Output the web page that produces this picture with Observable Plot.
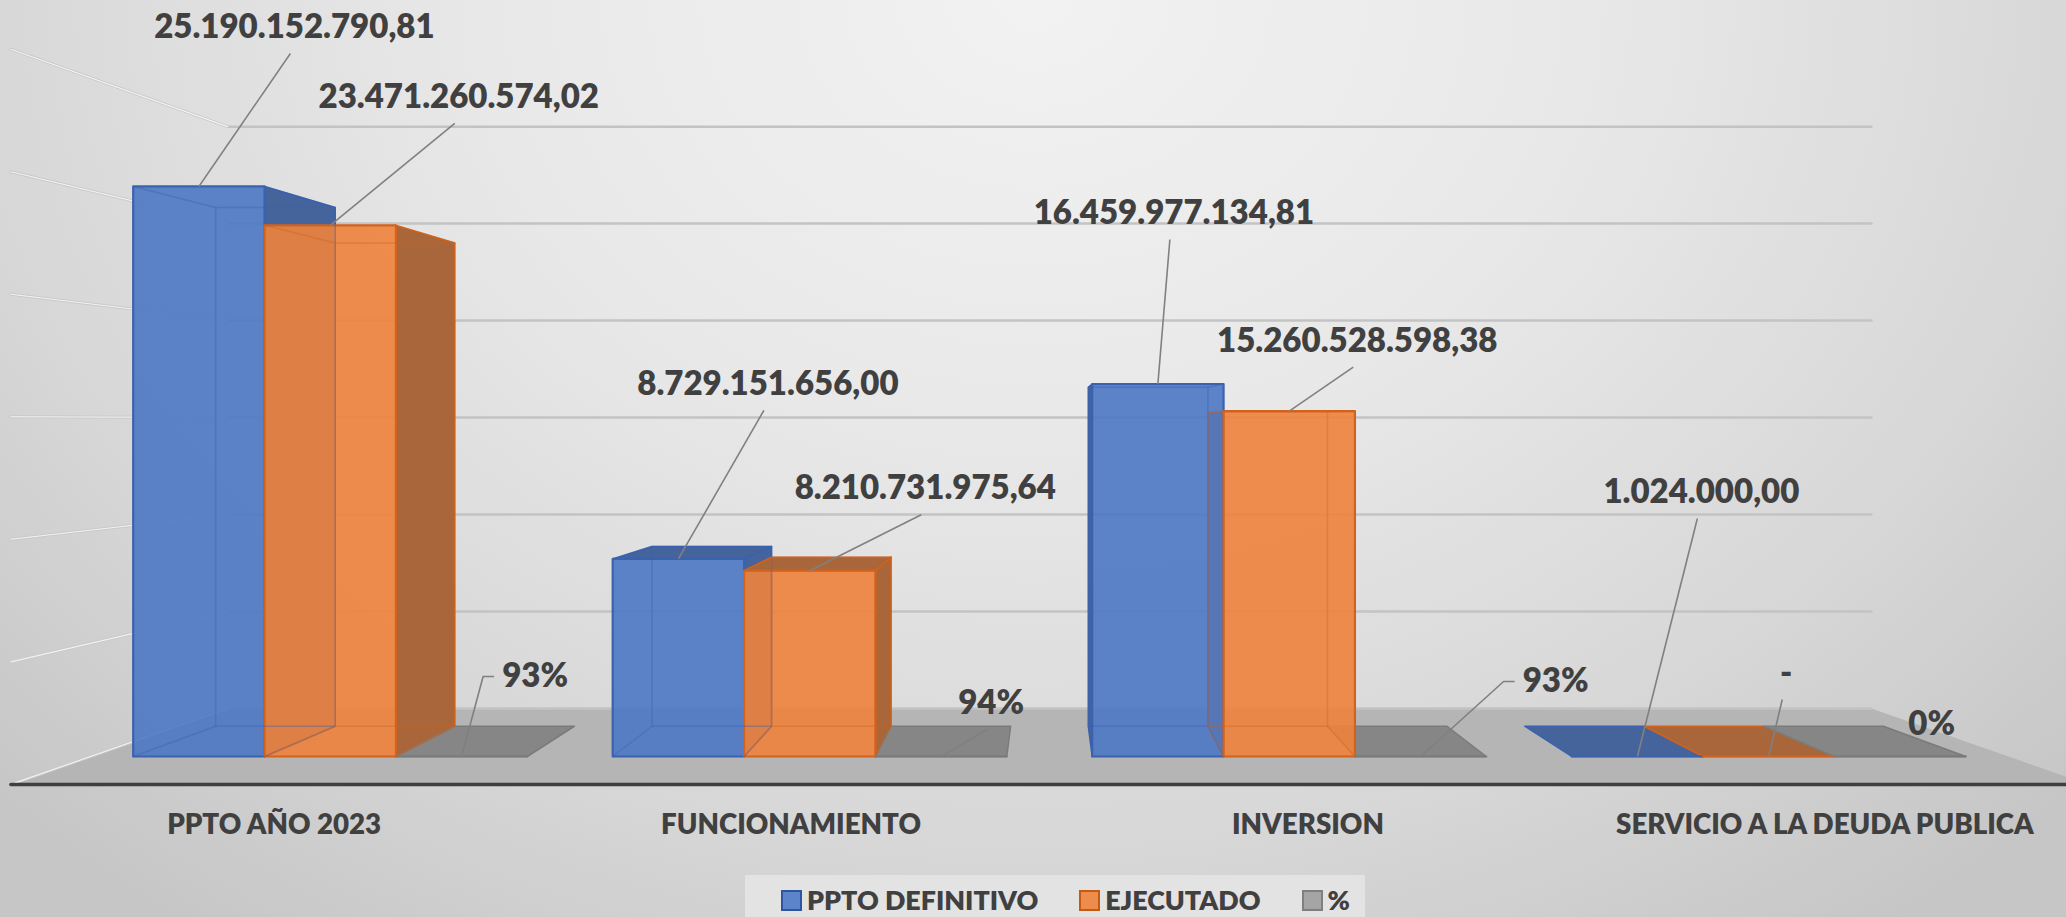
<!DOCTYPE html>
<html>
<head>
<meta charset="utf-8">
<script src="https://cdn.jsdelivr.net/npm/d3@7"></script>
<script src="https://cdn.jsdelivr.net/npm/@observablehq/plot@0.6"></script>
<style>
  html, body { margin: 0; padding: 0; }
  body {
    width: 2066px; height: 917px; overflow: hidden; position: relative;
    font-family: Lato, "Open Sans", sans-serif;
    background: radial-gradient(ellipse 1250px 1000px at 50% 0%, #f2f2f2 0%, #e8e8e8 45%, #d7d7d7 85%, #c6c6c6 115%);
  }
  #chart { position: absolute; left: 0; top: 0; width: 2066px; }
  #legend {
    position: absolute; left: 745px; top: 875px; width: 620px; height: 50px;
    background: #e3e3e3; display: flex; align-items: flex-start;
    padding-left: 36px; box-sizing: border-box; padding-top: 12px;
  }
  .item { display: flex; align-items: center; margin-right: 41px; height: 27px; }
  .sw { width: 17px; height: 17px; margin-right: 5px; border: 2px solid; box-sizing: content-box; }
  .lab { font-size: 26.8px; line-height: 27px; font-weight: 800; color: #404040; white-space: nowrap; }
</style>
</head>
<body>
<div id="chart"></div>
<div id="legend"></div>
<script>
// ---------------- data ----------------
const categories = ["PPTO AÑO 2023", "FUNCIONAMIENTO", "INVERSION", "SERVICIO A LA DEUDA PUBLICA"];
const series = ["PPTO DEFINITIVO", "EJECUTADO", "%"];
const pptoDefinitivo = [25190152790.81, 8729151656.00, 16459977134.81, 1024000.00];
const ejecutado = [23471260574.02, 8210731975.64, 15260528598.38, 0];
const porcentaje = [0.93, 0.94, 0.93, 0];
const valueTicks = [0, 5e9, 10e9, 15e9, 20e9, 25e9, 30e9];

// ---------------- layout / style ----------------
const valuesBySeries = [pptoDefinitivo, ejecutado, porcentaje];
const palette = [
  {front: "#4d78c3", side: "#46649c", edge: "#3a62b0", swatch: "#5b84cb", swatchEdge: "#2f55a0"},
  {front: "#ee823c", side: "#a9663a", edge: "#d2621c", swatch: "#ee8c4d", swatchEdge: "#c55a11"},
  {front: "#a5a5a5", side: "#868686", edge: "#7b7b7b", swatch: "#a5a5a5", swatchEdge: "#7f7f7f"}
];
const W = 2066, H = 870;
const X_RANGE = [90, 2008];
const Y_RANGE = [756, 756 - 30 * 22.63];
const xDomain = [0, categories.length];
const yDomain = [0, valueTicks[valueTicks.length - 1]];
const pxPerX = (X_RANGE[1] - X_RANGE[0]) / (xDomain[1] - xDomain[0]);
const pxPerV = (Y_RANGE[0] - Y_RANGE[1]) / (yDomain[1] - yDomain[0]);

// simple one-point perspective expressed in data units
const XVP = categories.length / 2;   // eye centred on the category axis
const VVP = 14.85e9;                 // eye level, in value units
const R_BACK = 0.91, R_WALL = 0.857, R_FLOOR = 1.083, R_LABEL = 1.078;
const P = (X, V, r) => ({x: XVP + (X - XVP) * r, y: VVP + (V - VVP) * r});

const inner = d3.scaleBand().domain(series).range([0, 1]).paddingInner(0).paddingOuter(0.325);
const bw = inner.bandwidth();

const fmtMoney = d3.formatLocale({decimal: ",", thousands: ".", grouping: [3], currency: ["$", ""]}).format(",.2f");
const fmtPct = d3.format(".0%");
const labelText = (s, v) => s === 2 ? fmtPct(v) : (v === 0 ? "-" : fmtMoney(v));

// label offsets from the top-centre of each bar's front face (px), and leader style
const LABEL_OFFSETS = [
  [[95.5, -159], [89.5, -174.5], [16, -170.5], [64, -264]],
  [[128.5, -128], [115.5, -82], [68, -70], [17.5, -83]],
  [[73.5, -80], [50, -53], [135, -75], [31.5, -32]]
];
const LEADER_STYLE = [
  ["below", "below", "below", "below"],
  ["below", "below", "below", "below"],
  ["left", "below", "left", "none"]
];

// ---------------- geometry from data ----------------
const flat = polys => polys.flatMap(p => p.pts.map(pt => ({id: p.id, x: pt.x, y: pt.y, fill: p.fill, stroke: p.stroke})));
const nC = categories.length;

const floorPoly = [{id: "floor", fill: "#b5b5b5", stroke: "none",
  pts: [P(0, 0, R_WALL), P(nC, 0, R_WALL), P(nC, 0, R_FLOOR), P(0, 0, R_FLOOR)]}];

const backGrid = valueTicks.flatMap(v => [{id: "g" + v, ...P(0, v, R_WALL)}, {id: "g" + v, ...P(nC, v, R_WALL)}]);
const sideGrid = valueTicks.flatMap(v => [{id: "s" + v, ...P(0, v, R_WALL)}, {id: "s" + v, ...P(0, v, R_FLOOR)}]);
const axisLine = [{id: "axis", ...P(0, 0, R_FLOOR)}, {id: "axis", ...P(nC, 0, R_FLOOR)}];

const sidePolys = [], frontPolys = [], innerEdges = [], leaders = [], labels = [];
categories.forEach((cat, c) => {
  series.forEach((ser, s) => {
    const v = valuesBySeries[s][c];
    const col = palette[s];
    const X0 = c + inner(ser), X1 = X0 + bw;
    const F = (X, V) => P(X, V, 1), B = (X, V) => P(X, V, R_BACK);
    const tall = v / yDomain[1] > 0.002;
    const key = c + "_" + s;
    if (tall && X1 < XVP) sidePolys.push({id: "rs" + key, fill: col.side, stroke: col.edge, pts: [F(X1, 0), F(X1, v), B(X1, v), B(X1, 0)]});
    if (tall && X0 > XVP) sidePolys.push({id: "ls" + key, fill: col.side, stroke: col.edge, pts: [F(X0, 0), F(X0, v), B(X0, v), B(X0, 0)]});
    if (v < VVP) sidePolys.push({id: "tp" + key, fill: col.side, stroke: col.edge, pts: [F(X0, v), F(X1, v), B(X1, v), B(X0, v)]});
    frontPolys.push({id: "fr" + key, fill: col.front, stroke: col.edge, pts: [F(X0, 0), F(X1, 0), F(X1, v), F(X0, v)]});
    if (tall) {
      const back = [B(X0, 0), B(X1, 0), B(X1, v), B(X0, v), B(X0, 0)];
      back.forEach(p => innerEdges.push({id: "bk" + key, ...p, stroke: col.edge}));
      [[X0, 0], [X1, 0], [X0, v], [X1, v]].forEach(([X, V], k) => {
        innerEdges.push({id: "cn" + key + k, ...F(X, V), stroke: col.edge});
        innerEdges.push({id: "cn" + key + k, ...B(X, V), stroke: col.edge});
      });
    }
    // label + leader
    const Xc = (X0 + X1) / 2;
    const [dx, dy] = LABEL_OFFSETS[s][c];
    const at = (px, py) => ({x: Xc + px / pxPerX, y: v - py / pxPerV});
    labels.push({...at(dx, dy), text: labelText(s, v)});
    const style = LEADER_STYLE[s][c];
    if (style === "below") {
      leaders.push({id: "ld" + key, x: Xc, y: v}, {id: "ld" + key, ...at(dx - 4, dy + 26)});
    } else if (style === "left") {
      leaders.push({id: "ld" + key, x: Xc, y: v}, {id: "ld" + key, ...at(dx - 52, dy)}, {id: "ld" + key, ...at(dx - 41, dy)});
    }
  });
});

const catLabels = categories.map((cat, i) => ({x: P(i + 0.5, 0, R_LABEL).x, y: P(i + 0.5, 0, R_FLOOR).y, text: cat}));

const FONT = "Lato, 'Open Sans', sans-serif";
const chart = Plot.plot({
  width: W, height: H,
  marginLeft: 0, marginRight: 0, marginTop: 0, marginBottom: 0,
  x: {type: "linear", domain: xDomain, range: X_RANGE, axis: null},
  y: {type: "linear", domain: yDomain, range: Y_RANGE, axis: null},
  color: {type: "identity"},
  style: {background: "transparent", overflow: "visible"},
  marks: [
    Plot.line(flat(floorPoly), {x: "x", y: "y", z: "id", fill: "fill", stroke: "none", curve: "linear-closed"}),
    Plot.line(backGrid, {x: "x", y: "y", z: "id", stroke: "#c3c3c3", strokeWidth: 2.5}),
    Plot.line(sideGrid, {x: "x", y: "y", z: "id", stroke: "#c9c9c9", strokeWidth: 3}),
    Plot.line(sideGrid, {x: "x", y: "y", z: "id", stroke: "#f3f3f3", strokeWidth: 1.1}),
    Plot.line(axisLine, {x: "x", y: "y", z: "id", stroke: "#3f3f3f", strokeWidth: 3.5}),
    Plot.line(flat(sidePolys), {x: "x", y: "y", z: "id", fill: "fill", stroke: "stroke", strokeWidth: 1.5, curve: "linear-closed"}),
    Plot.line(flat(frontPolys), {x: "x", y: "y", z: "id", fill: "fill", fillOpacity: 0.9, stroke: "stroke", strokeWidth: 2.2, curve: "linear-closed"}),
    Plot.line(innerEdges, {x: "x", y: "y", z: "id", stroke: "stroke", strokeOpacity: 0.4, strokeWidth: 1.5}),
    Plot.line(leaders, {x: "x", y: "y", z: "id", stroke: "#808080", strokeWidth: 1.6, strokeLinecap: "butt"}),
    Plot.text(labels, {x: "x", y: "y", text: "text", fontSize: 33, fontWeight: 800, fontFamily: FONT, fill: "#404040"}),
    Plot.text(catLabels, {x: "x", y: "y", text: "text", dy: 41, fontSize: 27.7, fontWeight: 800, fontFamily: FONT, fill: "#404040"})
  ]
});
document.getElementById("chart").appendChild(chart);

// legend
const legend = document.getElementById("legend");
series.forEach((name, s) => {
  const item = document.createElement("div");
  item.className = "item";
  const sw = document.createElement("div");
  sw.className = "sw";
  sw.style.background = palette[s].swatch;
  sw.style.borderColor = palette[s].swatchEdge;
  const lab = document.createElement("div");
  lab.className = "lab";
  lab.textContent = name;
  item.appendChild(sw); item.appendChild(lab);
  legend.appendChild(item);
});
</script>
</body>
</html>
